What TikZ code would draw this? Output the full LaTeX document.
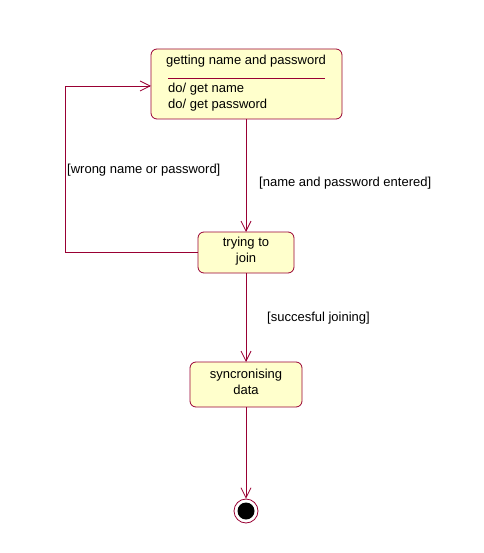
\documentclass[tikz,border=0pt]{standalone}
\usepackage{fontspec}
\setmainfont{Liberation Sans}
\usetikzlibrary{arrows.meta}
\definecolor{uml}{RGB}{153,0,51}
\definecolor{umlfill}{RGB}{255,255,204}
\tikzset{
  statebox/.style={draw=uml, fill=umlfill, rounded corners=6pt, line width=0.8pt},
  conn/.style={draw=uml, line width=0.8pt, -{Straight Barb[length=10pt,width=10pt,line width=0.8pt]}},
  lbl/.style={font=\fontsize{13}{15}\selectfont, inner sep=0pt, anchor=west},
  txt/.style={font=\fontsize{13}{16}\selectfont, align=center, inner sep=0pt}
}
\begin{document}
\begin{tikzpicture}[x=1pt,y=-1pt]
\useasboundingbox (0,0) rectangle (483,553);
% top state
\draw[statebox] (151,49) rectangle (342,119);
\node[txt] (t1) at (246,61.5) {getting name and password};
\draw[uml, line width=0.8pt] (168,78) -- (325,78);
\node[lbl] (t2) at (168,89.5) {do/ get name};
\node[lbl] (t3) at (168,105.5) {do/ get password};
\coordinate (topS) at (246,119);
\coordinate (topW) at (151,86);
% middle
\draw[statebox] (198,232) rectangle (294,273);
\node[txt] (m) at (246,251.5) {trying to\\join};
\coordinate (midN) at (246,232);
\coordinate (midS) at (246,273);
\coordinate (midW) at (198,252);
% bottom
\draw[statebox] (190,362) rectangle (302,407);
\node[txt] (b) at (246,381.5) {syncronising\\data};
\coordinate (botN) at (246,362);
\coordinate (botS) at (246,407);
% final
\node[circle, draw=uml, line width=0.8pt, minimum size=24pt, inner sep=0pt] (fin) at (246,511) {};
\fill[black] (fin.center) circle (8.5pt);
% connectors
\draw[conn] (topS) -- (midN);
\draw[conn] (midS) -- (botN);
\draw[conn] (botS) -- (fin.north);
\draw[conn] (midW) -- (65,252) -- (65,86) -- (topW);
% labels
\node[lbl] (l1) at (67,170.5) {[wrong name or password]};
\node[lbl] (l2) at (259,183.5) {[name and password entered]};
\node[lbl] (l3) at (267,318.5) {[succesful joining]};
\end{tikzpicture}
\end{document}
